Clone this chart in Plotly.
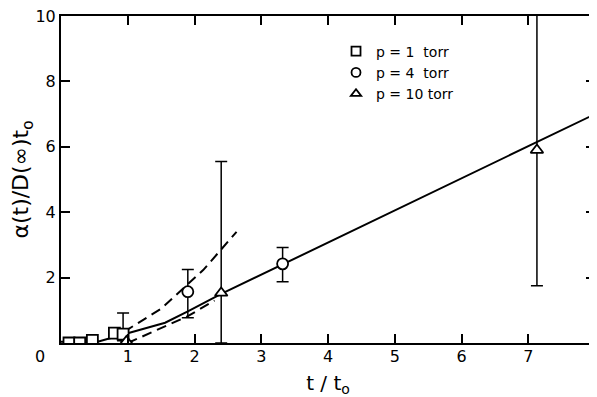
import plotly.graph_objects as go

# p = 1 torr (squares)
sq_x = [0.12, 0.28, 0.47, 0.80, 0.93]
sq_y = [0.0, 0.0, 0.08, 0.30, 0.27]
sq_err_plus = [0, 0, 0, 0, 0.65]
sq_err_minus = [0, 0, 0, 0, 0.2]

# p = 4 torr (circles)
ci_x = [1.90, 3.32]
ci_y = [1.57, 2.42]
ci_err_plus = [0.68, 0.50]
ci_err_minus = [0.80, 0.55]

# p = 10 torr (triangles)
tr_x = [0.98, 2.40, 7.13]
tr_y = [0.05, 1.53, 5.90]
tr_err_plus = [0, 4.02, 4.6]
tr_err_minus = [0, 1.53, 4.15]

# solid fit line
solid_x = [0.0, 0.55, 1.0, 1.56, 1.9, 2.4, 8.0]
solid_y = [0.04, 0.04, 0.30, 0.62, 0.97, 1.50, 7.0]

# dashed bounds
up_x = [0.95, 1.5, 2.13, 2.63]
up_y = [0.35, 1.05, 2.23, 3.40]
lo_x = [1.0, 1.5, 1.9, 2.3]
lo_y = [0.0, 0.45, 0.82, 1.30]

legend_labels = ["p = 1  torr", "p = 4  torr", "p = 10 torr"]
x_ticks = [1, 2, 3, 4, 5, 6, 7, 8]
y_ticks = [2, 4, 6, 8, 10]

FONT = "DejaVu Sans"
fig = go.Figure()

fig.add_trace(go.Scatter(x=solid_x, y=solid_y, mode="lines",
                         line=dict(color="black", width=2), showlegend=False))
fig.add_trace(go.Scatter(x=up_x, y=up_y, mode="lines",
                         line=dict(color="black", width=2, dash="10px,6px"), showlegend=False))
fig.add_trace(go.Scatter(x=lo_x, y=lo_y, mode="lines",
                         line=dict(color="black", width=2, dash="10px,6px"), showlegend=False))

def ebar(p, m):
    return dict(type="data", symmetric=False, array=p, arrayminus=m,
                color="black", thickness=1.5, width=6)

mk = dict(color="white", size=11, line=dict(color="black", width=1.8))
fig.add_trace(go.Scatter(x=sq_x, y=sq_y, mode="markers", showlegend=False,
                         marker=dict(symbol="square", **mk),
                         error_y=ebar(sq_err_plus, sq_err_minus)))
fig.add_trace(go.Scatter(x=ci_x, y=ci_y, mode="markers", showlegend=False,
                         marker=dict(symbol="circle", **mk),
                         error_y=ebar(ci_err_plus, ci_err_minus)))
fig.add_trace(go.Scatter(x=tr_x, y=tr_y, mode="markers", showlegend=False,
                         marker=dict(symbol="triangle-up", **mk),
                         error_y=ebar(tr_err_plus, tr_err_minus)))

lmk = dict(color="white", size=9, line=dict(color="black", width=1.8))
for sym, lab in zip(["square", "circle", "triangle-up"], legend_labels):
    fig.add_trace(go.Scatter(x=[None], y=[None], mode="markers", name=lab,
                             marker=dict(symbol=sym, **lmk)))

axis_common = dict(showline=True, linecolor="black", linewidth=2, mirror="ticks",
                   ticks="inside", ticklen=9, tickwidth=1.5, tickcolor="black",
                   showgrid=False, zeroline=False, automargin=False,
                   ticklabeloverflow="allow",
                   tickfont=dict(family=FONT, size=16, color="black"))

fig.update_xaxes(range=[0, 8], tickvals=x_ticks, ticktext=[str(v) for v in x_ticks],
                 ticklabelstandoff=-2,
                 title=dict(text="t / t<sub>o</sub>", font=dict(family=FONT, size=20, color="black"),
                            standoff=12),
                 **axis_common)
fig.update_yaxes(range=[0, 10], tickvals=y_ticks, ticktext=[str(v) for v in y_ticks],
                 title=dict(text="α(t)/D(∞)t<sub>o</sub>", font=dict(family=FONT, size=22, color="black"),
                            standoff=8),
                 **axis_common)

fig.add_annotation(text="0", xref="paper", yref="paper", x=-0.039, y=-0.04,
                   xanchor="center", yanchor="middle",
                   showarrow=False, font=dict(family=FONT, size=16, color="black"))

# page is rendered with an 8px body margin; the figure is sized to fit the
# window without overflowing, and margins are offset by 8px
fig.update_layout(
    width=589, height=389,
    margin=dict(l=53, r=2, t=8, b=54, autoexpand=False),
    plot_bgcolor="white", paper_bgcolor="white",
    legend=dict(x=0.515, y=0.94, xanchor="left", yanchor="top",
                bgcolor="rgba(0,0,0,0)", itemwidth=30, tracegroupgap=0,
                font=dict(family=FONT, size=14, color="black")),
)

fig.write_html("out.html")
